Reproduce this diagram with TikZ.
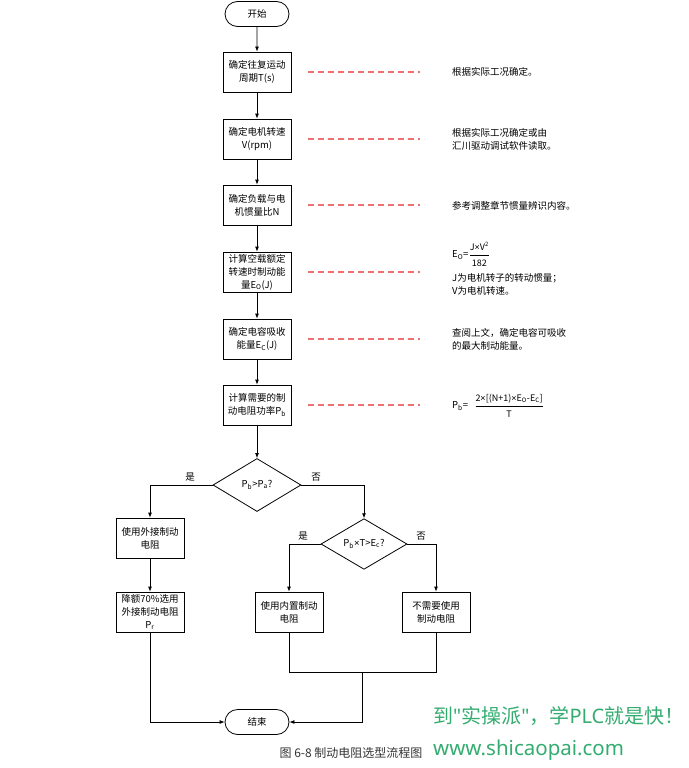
\documentclass[tikz,border=0pt]{standalone}
\usepackage{fontspec}
\setmainfont{Noto Sans CJK SC}
\newfontfamily\latf{Liberation Sans}
\newfontfamily\wmlat{Noto Sans}
\usetikzlibrary{arrows.meta,shapes.geometric,shapes.misc}
\definecolor{dashred}{RGB}{238,112,112}
\definecolor{wmgreen}{RGB}{52,172,112}
\definecolor{captgray}{RGB}{51,51,51}
\newcommand{\tms}{{\latf ×}}
\begin{document}
\begin{tikzpicture}[x=1pt,y=-1pt,
  base/.style={font=\fontsize{9.5}{13}\selectfont, text=black},
  proc/.style={base, draw, line width=0.8pt, minimum width=68pt, minimum height=40pt, inner sep=1pt, align=center},
  term/.style={base, draw, line width=0.8pt, rounded rectangle, minimum width=66pt, minimum height=25pt, inner sep=1pt},
  dec/.style={base, draw, line width=0.8pt, diamond, minimum width=88pt, minimum height=53pt, inner sep=0pt},
  arr/.style={draw, line width=0.8pt, -{Latex[length=5pt,width=4pt]}},
  ln/.style={draw, line width=0.8pt},
  dashln/.style={draw=dashred, line width=1.1pt, dash pattern=on 6pt off 4pt},
  note/.style={base, anchor=west, align=left, inner sep=0pt},
  lab/.style={base, inner sep=1pt},
  frac/.style={base, anchor=west, inner sep=1pt, font=\fontsize{9}{11}\selectfont}
]
\useasboundingbox (0,0) rectangle (688,768);

% main column
\node[term] (start) at (257,14) {开始};
\node[proc] (b1) at (257,72) {确定往复运动\\周期T(s)};
\node[proc] (b2) at (257,139) {确定电机转速\\V(rpm)};
\node[proc] (b3) at (257,205) {确定负载与电\\机惯量比N};
\node[proc] (b4) at (257,272) {计算空载额定\\转速时制动能\\量E\textsubscript{O}(J)};
\node[proc] (b5) at (257,339) {确定电容吸收\\能量E\textsubscript{C}(J)};
\node[proc] (b6) at (257,405) {计算需要的制\\动电阻功率P\textsubscript{b}};
\node[dec] (d1) at (257,485) {P\textsubscript{b}>P\textsubscript{a}?};

\draw[arr] (start) -- (b1);
\draw[arr] (b1) -- (b2);
\draw[arr] (b2) -- (b3);
\draw[arr] (b3) -- (b4);
\draw[arr] (b4) -- (b5);
\draw[arr] (b5) -- (b6);
\draw[arr] (b6) -- (d1);

% left branch
\node[proc] (e1) at (150,538) {使用外接制动\\电阻};
\node[proc] (e2) at (150,612) {降额70\%选用\\外接制动电阻\\P\textsubscript{r}};
\draw[arr] (d1.west) -| (e1.north);
\draw[arr] (e1) -- (e2);
\node[lab] (lyes1) at (190,477) {是};

% right branch
\node[dec, minimum width=86pt, minimum height=50pt] (d2) at (364,544) {P\textsubscript{b}\tms T>E\textsubscript{c}?};
\draw[arr] (d1.east) -| (d2.north);
\node[lab] (lno1) at (316,477) {否};

\node[proc] (b8) at (289,612) {使用内置制动\\电阻};
\node[proc] (b9) at (436,612) {不需要使用\\制动电阻};
\draw[arr] (d2.west) -| (b8.north);
\draw[arr] (d2.east) -| (b9.north);
\node[lab] (lyes2) at (303,536) {是};
\node[lab] (lno2) at (421,536) {否};

% end
\node[term] (end) at (257,722) {结束};
\coordinate (m) at (362,672);
\draw[ln] (b8.south) |- (m);
\draw[ln] (b9.south) |- (m);
\draw[arr] (m) |- (end.east);
\draw[arr] (e2.south) |- (end.west);

% dashed leaders
\foreach \i/\yy in {1/72,2/139,3/205,4/272,5/339,6/405}{
  \coordinate (da\i) at (308,\yy);
  \coordinate (db\i) at (420,\yy);
  \draw[dashln] (da\i) -- (db\i);
}

% notes
\node[note] (n1) at (452,72) {根据实际工况确定。};
\node[note] (n2) at (452,139) {根据实际工况确定或由\\汇川驱动调试软件读取。};
\node[note] (n3) at (452,206) {参考调整章节惯量辨识内容。};
\node[note] (n4a) at (452,255) {E\textsubscript{O}=};
\node[frac] (n4f) at (n4a.east) {\renewcommand\arraystretch{1.45}\begin{tabular}{@{}c@{}}J\tms V\textsuperscript{2}\\\hline 182\end{tabular}};
\node[note] (n4b) at (452,284) {J为电机转子的转动惯量；\\V为电机转速。};
\node[note] (n5) at (452,339) {查阅上文，确定电容可吸收\\的最大制动能量。};
\node[note] (n6a) at (452,406) {P\textsubscript{b}=};
\node[frac] (n6f) at ([xshift=6pt]n6a.east) {\renewcommand\arraystretch{1.45}\begin{tabular}{@{}c@{}}2\tms[(N+1)\tms E\textsubscript{O}-E\textsubscript{C}]\\\hline T\end{tabular}};

% caption
\node[base, text=captgray, font=\fontsize{12}{14}\selectfont] (cap) at (351,753) {图 6-8 制动电阻选型流程图};

% watermark
\node[anchor=west, inner sep=0pt, text=wmgreen, font=\fontsize{20}{24}\selectfont] (wm1) at (433,716) {到{\wmlat "}实操派{\wmlat "}，学{\wmlat PLC}就是快！};
\node[anchor=west, inner sep=0pt, text=wmgreen, font=\fontsize{20.5}{24}\selectfont] (wm2) at (433,750) {\wmlat www.shicaopai.com};
\end{tikzpicture}
\end{document}
